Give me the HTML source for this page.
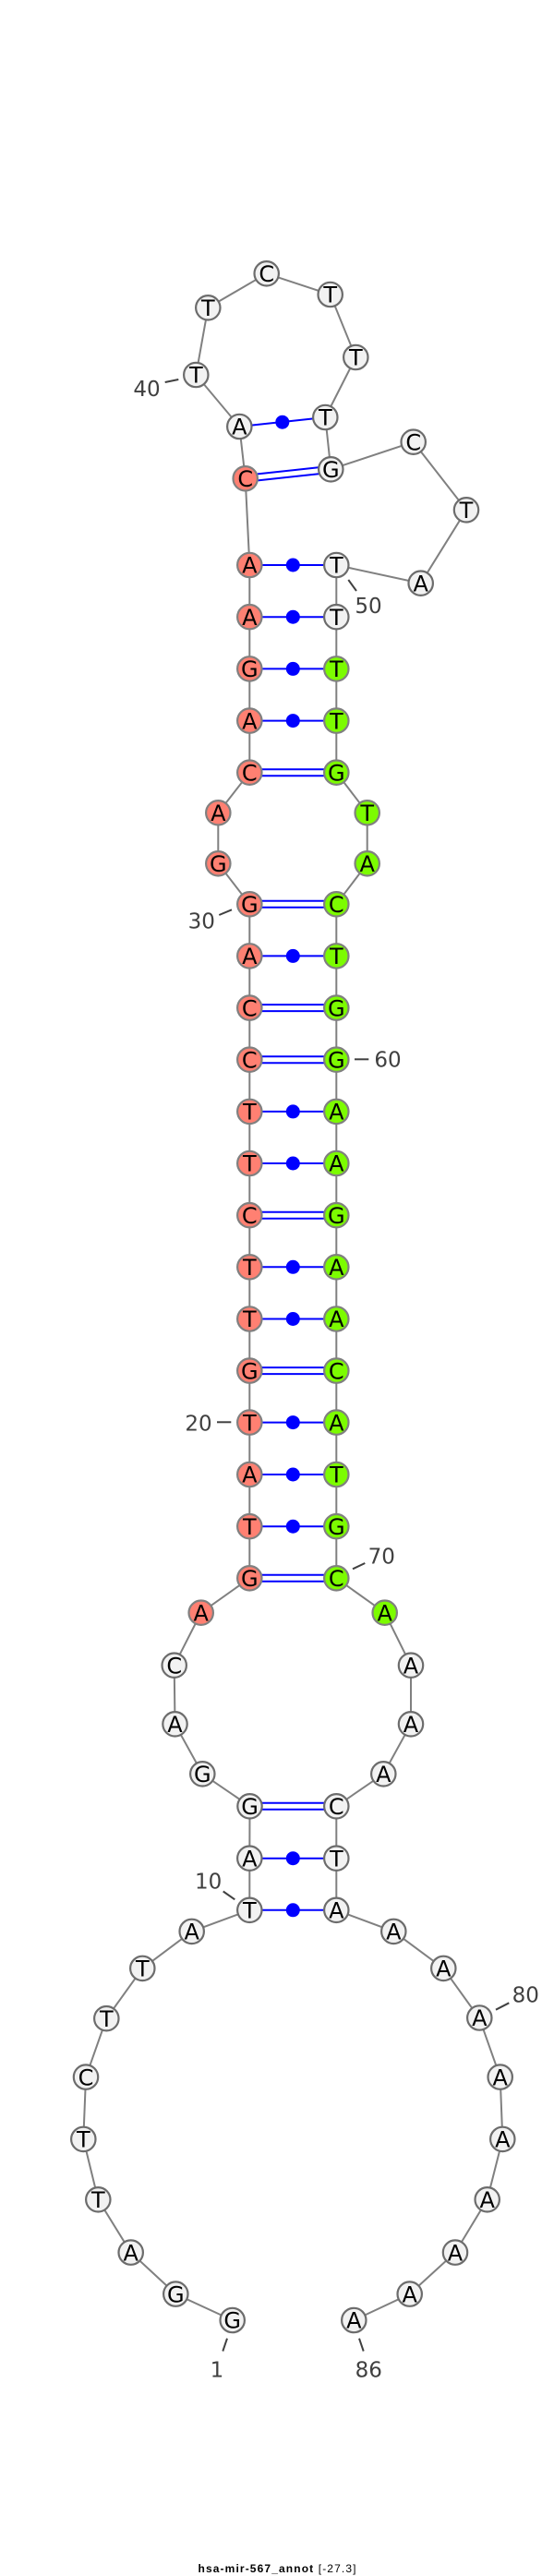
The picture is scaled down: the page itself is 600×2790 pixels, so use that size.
<!DOCTYPE html>
<html><head><meta charset="utf-8"><style>
html,body{margin:0;padding:0;background:#fff}
svg{display:block}
.bb{fill:none;stroke:#808080;stroke-width:2}
.bp{stroke:#0000ff;stroke-width:2}
.dot{fill:#0000ff}
.n{stroke-width:2.2;r:13.2px}
.w{fill:#f2f2f2;stroke:#6c6c6c}
.r{fill:#ff8072;stroke:#808080}
.g{fill:#7cfc00;stroke:#808080}
.l{font:24px "DejaVu Sans",sans-serif;fill:#000;text-anchor:middle}
.num{font:23px "DejaVu Sans",sans-serif;fill:#404040;text-anchor:middle}
.tick{stroke:#404040;stroke-width:2}
</style></head><body>
<svg xmlns="http://www.w3.org/2000/svg" width="600" height="2790" viewBox="0 0 600 2790">
<rect width="600" height="2790" fill="#fff"/>
<polyline class="bb" points="251.7,2513 190.3,2484.6 141.7,2439.6 106.3,2382.3 90.3,2316.9 93,2249.6 115.3,2186.2 154.3,2131.9 207.7,2091.9 270.3,2068.8 270.3,2012.7 270.5,1956.3 219.3,1921.3 189.5,1867.3 188.7,1803.7 217.7,1746.7 270.3,1709.3 270.3,979.3 236.3,935.3 236.3,880.3 270.3,836.7 270.3,612 265.7,518.3 259.3,462 212.3,406 225.3,333.3 288.7,296.3 357.7,319 385.3,387 352.3,452 358.3,508.3 447.7,478.7 505,552.3 455.7,631.7 364.3,612 364.3,836.7 397.7,880.3 397.7,935.3 364.3,979.3 364.3,1709.3 416.7,1746.7 445,1803.7 445,1867.3 415.3,1921.3 364.3,1956.3 364.3,2068.8 426.3,2091.9 480.3,2131.9 519.3,2186.2 541.7,2249.6 544.3,2316.9 527.7,2382.3 493,2439.6 443.7,2484.6 383.3,2513"/>

<line class="bp" x1="259.3" y1="462" x2="352.3" y2="452"/><circle class="dot" cx="305.8" cy="457.2" r="7.5"/>
<line class="bp" x1="266" y1="514.8" x2="358.6" y2="504.8"/><line class="bp" x1="266.4" y1="521.8" x2="359" y2="511.8"/>
<line class="bp" x1="270.3" y1="612" x2="364.3" y2="612"/><circle class="dot" cx="317.3" cy="612" r="7.5"/>
<line class="bp" x1="270.3" y1="668.2" x2="364.3" y2="668.2"/><circle class="dot" cx="317.3" cy="668.2" r="7.5"/>
<line class="bp" x1="270.3" y1="724.4" x2="364.3" y2="724.4"/><circle class="dot" cx="317.3" cy="724.4" r="7.5"/>
<line class="bp" x1="270.3" y1="780.6" x2="364.3" y2="780.6"/><circle class="dot" cx="317.3" cy="780.6" r="7.5"/>
<line class="bp" x1="270.3" y1="833.2" x2="364.3" y2="833.2"/><line class="bp" x1="270.3" y1="840.2" x2="364.3" y2="840.2"/>
<line class="bp" x1="270.3" y1="975.8" x2="364.3" y2="975.8"/><line class="bp" x1="270.3" y1="982.8" x2="364.3" y2="982.8"/>
<line class="bp" x1="270.3" y1="1035.4" x2="364.3" y2="1035.4"/><circle class="dot" cx="317.3" cy="1035.4" r="7.5"/>
<line class="bp" x1="270.3" y1="1088.1" x2="364.3" y2="1088.1"/><line class="bp" x1="270.3" y1="1095.1" x2="364.3" y2="1095.1"/>
<line class="bp" x1="270.3" y1="1144.2" x2="364.3" y2="1144.2"/><line class="bp" x1="270.3" y1="1151.2" x2="364.3" y2="1151.2"/>
<line class="bp" x1="270.3" y1="1203.9" x2="364.3" y2="1203.9"/><circle class="dot" cx="317.3" cy="1203.9" r="7.5"/>
<line class="bp" x1="270.3" y1="1260" x2="364.3" y2="1260"/><circle class="dot" cx="317.3" cy="1260" r="7.5"/>
<line class="bp" x1="270.3" y1="1312.7" x2="364.3" y2="1312.7"/><line class="bp" x1="270.3" y1="1319.7" x2="364.3" y2="1319.7"/>
<line class="bp" x1="270.3" y1="1372.3" x2="364.3" y2="1372.3"/><circle class="dot" cx="317.3" cy="1372.3" r="7.5"/>
<line class="bp" x1="270.3" y1="1428.5" x2="364.3" y2="1428.5"/><circle class="dot" cx="317.3" cy="1428.5" r="7.5"/>
<line class="bp" x1="270.3" y1="1481.1" x2="364.3" y2="1481.1"/><line class="bp" x1="270.3" y1="1488.1" x2="364.3" y2="1488.1"/>
<line class="bp" x1="270.3" y1="1540.6" x2="364.3" y2="1540.6"/><circle class="dot" cx="317.3" cy="1540.6" r="7.5"/>
<line class="bp" x1="270.3" y1="1597" x2="364.3" y2="1597"/><circle class="dot" cx="317.3" cy="1597" r="7.5"/>
<line class="bp" x1="270.3" y1="1653.2" x2="364.3" y2="1653.2"/><circle class="dot" cx="317.3" cy="1653.2" r="7.5"/>
<line class="bp" x1="270.3" y1="1705.8" x2="364.3" y2="1705.8"/><line class="bp" x1="270.3" y1="1712.8" x2="364.3" y2="1712.8"/>
<line class="bp" x1="270.5" y1="1952.8" x2="364.3" y2="1952.8"/><line class="bp" x1="270.5" y1="1959.8" x2="364.3" y2="1959.8"/>
<line class="bp" x1="270.3" y1="2012.7" x2="364.3" y2="2012.7"/><circle class="dot" cx="317.3" cy="2012.7" r="7.5"/>
<line class="bp" x1="270.3" y1="2068.8" x2="364.3" y2="2068.8"/><circle class="dot" cx="317.3" cy="2068.8" r="7.5"/>

<circle class="n w" cx="251.7" cy="2513" r="13.2"/><text class="l" x="251.7" y="2521.7">G</text>
<circle class="n w" cx="190.3" cy="2484.6" r="13.2"/><text class="l" x="190.3" y="2493.3">G</text>
<circle class="n w" cx="141.7" cy="2439.6" r="13.2"/><text class="l" x="141.7" y="2448.3">A</text>
<circle class="n w" cx="106.3" cy="2382.3" r="13.2"/><text class="l" x="106.3" y="2391">T</text>
<circle class="n w" cx="90.3" cy="2316.9" r="13.2"/><text class="l" x="90.3" y="2325.6">T</text>
<circle class="n w" cx="93" cy="2249.6" r="13.2"/><text class="l" x="93" y="2258.3">C</text>
<circle class="n w" cx="115.3" cy="2186.2" r="13.2"/><text class="l" x="115.3" y="2194.9">T</text>
<circle class="n w" cx="154.3" cy="2131.9" r="13.2"/><text class="l" x="154.3" y="2140.6">T</text>
<circle class="n w" cx="207.7" cy="2091.9" r="13.2"/><text class="l" x="207.7" y="2100.6">A</text>
<circle class="n w" cx="270.3" cy="2068.8" r="13.2"/><text class="l" x="270.3" y="2077.5">T</text>
<circle class="n w" cx="270.3" cy="2012.7" r="13.2"/><text class="l" x="270.3" y="2021.4">A</text>
<circle class="n w" cx="270.5" cy="1956.3" r="13.2"/><text class="l" x="270.5" y="1965">G</text>
<circle class="n w" cx="219.3" cy="1921.3" r="13.2"/><text class="l" x="219.3" y="1930">G</text>
<circle class="n w" cx="189.5" cy="1867.3" r="13.2"/><text class="l" x="189.5" y="1876">A</text>
<circle class="n w" cx="188.7" cy="1803.7" r="13.2"/><text class="l" x="188.7" y="1812.4">C</text>
<circle class="n r" cx="217.7" cy="1746.7" r="13.2"/><text class="l" x="217.7" y="1755.4">A</text>

<circle class="n r" cx="270.3" cy="1709.3" r="13.2"/><text class="l" x="270.3" y="1718">G</text>
<circle class="n r" cx="270.3" cy="1653.2" r="13.2"/><text class="l" x="270.3" y="1661.9">T</text>
<circle class="n r" cx="270.3" cy="1597" r="13.2"/><text class="l" x="270.3" y="1605.7">A</text>
<circle class="n r" cx="270.3" cy="1540.6" r="13.2"/><text class="l" x="270.3" y="1549.3">T</text>
<circle class="n r" cx="270.3" cy="1484.6" r="13.2"/><text class="l" x="270.3" y="1493.3">G</text>
<circle class="n r" cx="270.3" cy="1428.5" r="13.2"/><text class="l" x="270.3" y="1437.2">T</text>
<circle class="n r" cx="270.3" cy="1372.3" r="13.2"/><text class="l" x="270.3" y="1381">T</text>
<circle class="n r" cx="270.3" cy="1316.2" r="13.2"/><text class="l" x="270.3" y="1324.9">C</text>
<circle class="n r" cx="270.3" cy="1260" r="13.2"/><text class="l" x="270.3" y="1268.7">T</text>
<circle class="n r" cx="270.3" cy="1203.9" r="13.2"/><text class="l" x="270.3" y="1212.6">T</text>
<circle class="n r" cx="270.3" cy="1147.7" r="13.2"/><text class="l" x="270.3" y="1156.4">C</text>
<circle class="n r" cx="270.3" cy="1091.6" r="13.2"/><text class="l" x="270.3" y="1100.3">C</text>
<circle class="n r" cx="270.3" cy="1035.4" r="13.2"/><text class="l" x="270.3" y="1044.1">A</text>
<circle class="n r" cx="270.3" cy="979.3" r="13.2"/><text class="l" x="270.3" y="988">G</text>
<circle class="n r" cx="236.3" cy="935.3" r="13.2"/><text class="l" x="236.3" y="944">G</text>
<circle class="n r" cx="236.3" cy="880.3" r="13.2"/><text class="l" x="236.3" y="889">A</text>
<circle class="n r" cx="270.3" cy="836.7" r="13.2"/><text class="l" x="270.3" y="845.4">C</text>
<circle class="n r" cx="270.3" cy="780.6" r="13.2"/><text class="l" x="270.3" y="789.3">A</text>
<circle class="n r" cx="270.3" cy="724.4" r="13.2"/><text class="l" x="270.3" y="733.1">G</text>
<circle class="n r" cx="270.3" cy="668.2" r="13.2"/><text class="l" x="270.3" y="676.9">A</text>
<circle class="n r" cx="270.3" cy="612" r="13.2"/><text class="l" x="270.3" y="620.7">A</text>
<circle class="n r" cx="265.7" cy="518.3" r="13.2"/><text class="l" x="265.7" y="527">C</text>

<circle class="n w" cx="259.3" cy="462" r="13.2"/><text class="l" x="259.3" y="470.7">A</text>
<circle class="n w" cx="212.3" cy="406" r="13.2"/><text class="l" x="212.3" y="414.7">T</text>
<circle class="n w" cx="225.3" cy="333.3" r="13.2"/><text class="l" x="225.3" y="342">T</text>
<circle class="n w" cx="288.7" cy="296.3" r="13.2"/><text class="l" x="288.7" y="305">C</text>
<circle class="n w" cx="357.7" cy="319" r="13.2"/><text class="l" x="357.7" y="327.7">T</text>
<circle class="n w" cx="385.3" cy="387" r="13.2"/><text class="l" x="385.3" y="395.7">T</text>
<circle class="n w" cx="352.3" cy="452" r="13.2"/><text class="l" x="352.3" y="460.7">T</text>
<circle class="n w" cx="358.3" cy="508.3" r="13.2"/><text class="l" x="358.3" y="517">G</text>
<circle class="n w" cx="447.7" cy="478.7" r="13.2"/><text class="l" x="447.7" y="487.4">C</text>
<circle class="n w" cx="505" cy="552.3" r="13.2"/><text class="l" x="505" y="561">T</text>
<circle class="n w" cx="455.7" cy="631.7" r="13.2"/><text class="l" x="455.7" y="640.4">A</text>
<circle class="n w" cx="364.3" cy="612" r="13.2"/><text class="l" x="364.3" y="620.7">T</text>
<circle class="n w" cx="364.3" cy="668.2" r="13.2"/><text class="l" x="364.3" y="676.9">T</text>

<circle class="n g" cx="364.3" cy="724.4" r="13.2"/><text class="l" x="364.3" y="733.1">T</text>
<circle class="n g" cx="364.3" cy="780.6" r="13.2"/><text class="l" x="364.3" y="789.3">T</text>
<circle class="n g" cx="364.3" cy="836.7" r="13.2"/><text class="l" x="364.3" y="845.4">G</text>
<circle class="n g" cx="397.7" cy="880.3" r="13.2"/><text class="l" x="397.7" y="889">T</text>
<circle class="n g" cx="397.7" cy="935.3" r="13.2"/><text class="l" x="397.7" y="944">A</text>
<circle class="n g" cx="364.3" cy="979.3" r="13.2"/><text class="l" x="364.3" y="988">C</text>
<circle class="n g" cx="364.3" cy="1035.4" r="13.2"/><text class="l" x="364.3" y="1044.1">T</text>
<circle class="n g" cx="364.3" cy="1091.6" r="13.2"/><text class="l" x="364.3" y="1100.3">G</text>
<circle class="n g" cx="364.3" cy="1147.7" r="13.2"/><text class="l" x="364.3" y="1156.4">G</text>
<circle class="n g" cx="364.3" cy="1203.9" r="13.2"/><text class="l" x="364.3" y="1212.6">A</text>
<circle class="n g" cx="364.3" cy="1260" r="13.2"/><text class="l" x="364.3" y="1268.7">A</text>
<circle class="n g" cx="364.3" cy="1316.2" r="13.2"/><text class="l" x="364.3" y="1324.9">G</text>
<circle class="n g" cx="364.3" cy="1372.3" r="13.2"/><text class="l" x="364.3" y="1381">A</text>
<circle class="n g" cx="364.3" cy="1428.5" r="13.2"/><text class="l" x="364.3" y="1437.2">A</text>
<circle class="n g" cx="364.3" cy="1484.6" r="13.2"/><text class="l" x="364.3" y="1493.3">C</text>
<circle class="n g" cx="364.3" cy="1540.6" r="13.2"/><text class="l" x="364.3" y="1549.3">A</text>
<circle class="n g" cx="364.3" cy="1597" r="13.2"/><text class="l" x="364.3" y="1605.7">T</text>
<circle class="n g" cx="364.3" cy="1653.2" r="13.2"/><text class="l" x="364.3" y="1661.9">G</text>
<circle class="n g" cx="364.3" cy="1709.3" r="13.2"/><text class="l" x="364.3" y="1718">C</text>
<circle class="n g" cx="416.7" cy="1746.7" r="13.2"/><text class="l" x="416.7" y="1755.4">A</text>

<circle class="n w" cx="445" cy="1803.7" r="13.2"/><text class="l" x="445" y="1812.4">A</text>
<circle class="n w" cx="445" cy="1867.3" r="13.2"/><text class="l" x="445" y="1876">A</text>
<circle class="n w" cx="415.3" cy="1921.3" r="13.2"/><text class="l" x="415.3" y="1930">A</text>
<circle class="n w" cx="364.3" cy="1956.3" r="13.2"/><text class="l" x="364.3" y="1965">C</text>
<circle class="n w" cx="364.3" cy="2012.7" r="13.2"/><text class="l" x="364.3" y="2021.4">T</text>
<circle class="n w" cx="364.3" cy="2068.8" r="13.2"/><text class="l" x="364.3" y="2077.5">A</text>
<circle class="n w" cx="426.3" cy="2091.9" r="13.2"/><text class="l" x="426.3" y="2100.6">A</text>
<circle class="n w" cx="480.3" cy="2131.9" r="13.2"/><text class="l" x="480.3" y="2140.6">A</text>
<circle class="n w" cx="519.3" cy="2185.5" r="13.2"/><text class="l" x="519.3" y="2194.2">A</text>
<circle class="n w" cx="541.7" cy="2249.6" r="13.2"/><text class="l" x="541.7" y="2258.3">A</text>
<circle class="n w" cx="544.3" cy="2316.9" r="13.2"/><text class="l" x="544.3" y="2325.6">A</text>
<circle class="n w" cx="527.7" cy="2382.3" r="13.2"/><text class="l" x="527.7" y="2391">A</text>
<circle class="n w" cx="493" cy="2439.6" r="13.2"/><text class="l" x="493" y="2448.3">A</text>
<circle class="n w" cx="443.7" cy="2484.6" r="13.2"/><text class="l" x="443.7" y="2493.3">A</text>
<circle class="n w" cx="383.3" cy="2513" r="13.2"/><text class="l" x="383.3" y="2521.7">A</text>

<line class="tick" x1="246" y1="2532.7" x2="241.3" y2="2546.5"/><text class="num" x="235" y="2574.5">1</text>
<line class="tick" x1="389" y1="2532.7" x2="393.7" y2="2546.5"/><text class="num" x="399.3" y="2574.5">86</text>
<line class="tick" x1="241.7" y1="2048.5" x2="254.3" y2="2057.3"/><text class="num" x="225.7" y="2045.5">10</text>
<line class="tick" x1="537" y1="2176.7" x2="551.3" y2="2169.3"/><text class="num" x="569.3" y="2168.3">80</text>
<line class="tick" x1="382" y1="1699.3" x2="395.3" y2="1693"/><text class="num" x="413.3" y="1693.3">70</text>
<line class="tick" x1="235" y1="1540.3" x2="250.3" y2="1540.3"/><text class="num" x="215" y="1549.3">20</text>
<line class="tick" x1="384" y1="1147.3" x2="399.3" y2="1147.3"/><text class="num" x="420" y="1155.6">60</text>
<line class="tick" x1="237.3" y1="991" x2="251" y2="985.3"/><text class="num" x="218.3" y="1005.6">30</text>
<line class="tick" x1="377.3" y1="628" x2="386" y2="640"/><text class="num" x="399" y="664">50</text>
<line class="tick" x1="178.7" y1="414" x2="193.3" y2="411"/><text class="num" x="159" y="429">40</text>

<text x="214.5" y="2786" font-family="'Liberation Sans',sans-serif" font-size="12" font-weight="bold" fill="#000" textLength="171" lengthAdjust="spacing">hsa-mir-567_annot <tspan font-weight="normal">[-27.3]</tspan></text>
</svg>
</body></html>
